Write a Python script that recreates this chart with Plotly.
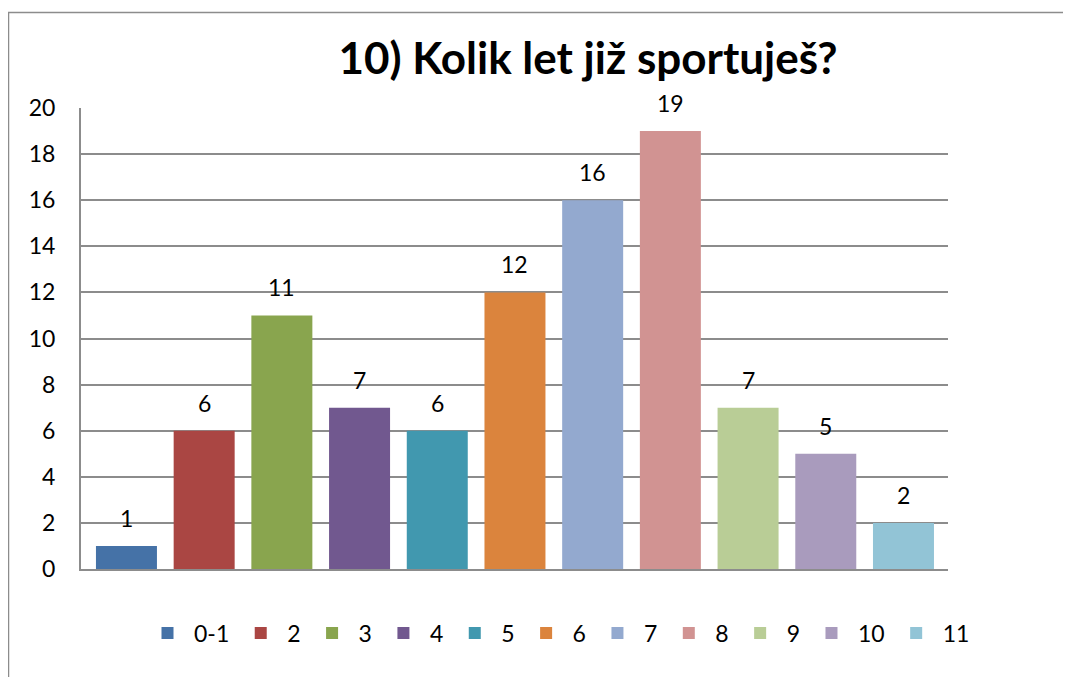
import plotly.graph_objects as go

categories = ["0-1", "2", "3", "4", "5", "6", "7", "8", "9", "10", "11"]
values = [1, 6, 11, 7, 6, 12, 16, 19, 7, 5, 2]
colors = ["#4572A7", "#AA4643", "#89A54E", "#71588F", "#4198AF", "#DB843D",
          "#93A9CF", "#D19392", "#B9CD96", "#A99BBD", "#92C4D6"]
y_ticks = list(range(0, 21, 2))
title_text = "10) Kolik let již sportuješ?"

FONT = "Lato"
OFF = 8  # default body margin of the html page
W, H = 1071 - OFF, 677 - OFF
L, R, T, B = 81 - OFF, 948 - OFF, 108 - OFF, 569 - OFF
pw, ph = R - L, B - T

fig = go.Figure()
for i, (c, v, col) in enumerate(zip(categories, values, colors)):
    fig.add_trace(go.Bar(
        x=[i], y=[v], name=c, marker=dict(color=col, line=dict(width=0)),
        width=0.785, showlegend=True,
    ))
    fig.add_annotation(x=i, y=v, text=str(v), showarrow=False,
                       yanchor="bottom", yshift=12,
                       font=dict(family=FONT, size=23, color="#000000"))

fig.update_layout(
    width=W, height=H,
    margin=dict(l=L, r=W - R, t=T, b=H - B, autoexpand=False),
    paper_bgcolor="white", plot_bgcolor="white",
    barmode="overlay",
    font=dict(family=FONT, size=23, color="#000000"),
    title=dict(text="<b>" + title_text + "</b>", x=(588 - OFF - L) / pw, xanchor="center",
               xref="paper", y=1 - (59 - OFF) / H, yanchor="middle", yref="container",
               font=dict(family=FONT, size=44, color="#000000")),
    xaxis=dict(range=[-0.585, 10.573], showticklabels=False, showgrid=False,
               zeroline=False, showline=True, linecolor="#8C8C8C", linewidth=2,
               ticks=""),
    yaxis=dict(range=[0, 20], tickvals=y_ticks, showgrid=True, gridcolor="#8C8C8C",
               gridwidth=1.5, zeroline=False, showline=True, linecolor="#8C8C8C",
               linewidth=2, ticks="", ticklabelstandoff=19,
               tickfont=dict(family=FONT, size=23, color="#000000")),
    legend=dict(orientation="h", x=(141 - OFF - L) / pw, xanchor="left",
                y=1 - (633 - OFF - T) / ph, yanchor="middle",
                itemwidth=43,
                font=dict(family=FONT, size=23, color="#000000"),
                itemclick=False, itemdoubleclick=False, traceorder="normal"),
    showlegend=True,
)

fig.add_shape(type="rect", xref="paper", yref="paper",
              x0=(8.5 - OFF - L) / pw, x1=(1090 - L) / pw,
              y0=(B - 700) / ph, y1=(B - (12.5 - OFF)) / ph,
              line=dict(color="#8C8C8C", width=1.5), fillcolor="rgba(0,0,0,0)",
              layer="below")

fig.write_html("out.html")
